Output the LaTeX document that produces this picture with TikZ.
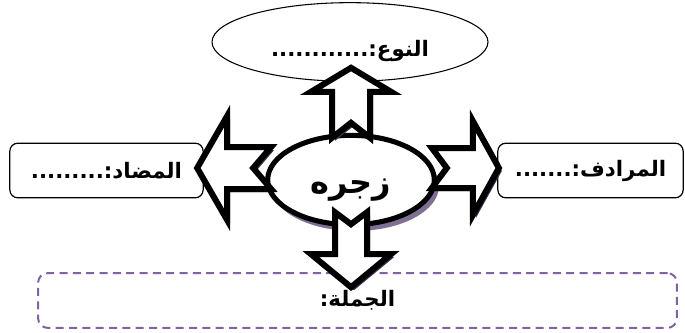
\documentclass[tikz,border=0pt]{standalone}
\usepackage{fontspec}
\usepackage{tikz}
\usetikzlibrary{positioning,shapes.geometric,calc}
\TeXXeTstate=1
\newfontfamily\arabicfont[Script=Arabic]{DejaVu Sans}
\definecolor{shadowpurple}{HTML}{3F3151}
\definecolor{ovalshade}{HTML}{5E4C78}
\definecolor{dashpurple}{HTML}{8064A2}
\newcommand{\artext}[1]{{\arabicfont\bfseries\beginR #1\endR}}

\tikzset{
  pics/notcharrow/.style n args={5}{code={%
    \path[pic actions] (0,-#4) -- (#1-#2,-#4) -- (#1-#2,-#3) -- (#1,0)
      -- (#1-#2,#3) -- (#1-#2,#4) -- (0,#4) -- (#5,0) -- cycle;
  }},
}

\begin{document}
\begin{tikzpicture}[
  x=0.75pt, y=-0.75pt,
  every node/.style={font=\fontsize{16}{19}\selectfont, inner sep=0pt},
  labelbox/.style={rectangle, draw, line width=0.9pt, rounded corners=6pt,
    fill=white, minimum height=41pt},
  topoval/.style={ellipse, draw, line width=0.8pt, fill=white,
    minimum width=207pt, minimum height=59pt, text height=21pt, text depth=0pt},
  wordoval/.style={ellipse, draw, line width=3.8pt, fill=white,
    minimum width=125pt, minimum height=67pt, font=\fontsize{24}{28}\selectfont,
    text height=20pt, text depth=0pt},
  sentbox/.style={rectangle, draw=dashpurple, line width=1.5pt, rounded corners=7pt,
    dash pattern=on 6pt off 4pt, minimum width=479pt, minimum height=41pt},
  blockarrow/.style={draw, fill=white, line width=4.5pt, line join=miter},
  arrowshadow/.style={fill=shadowpurple},
]
  \useasboundingbox (0,0) rectangle (685,332);

  %% Outer boxes
  \node[topoval] (naw) at (350,42) {\artext{النوع:............}};
  \node[labelbox, minimum width=145pt] (didd) at (106.5,170.5) {\artext{المضاد:.........}};
  \node[labelbox, minimum width=139pt] (murad) at (590.5,170.5) {\artext{المرادف:.......}};
  \node[sentbox] (jumla) at (357.5,300.5) {\artext{\raisebox{-2pt}{الجملة:}}};

  %% Central word with its shade
  \fill[ovalshade, opacity=0.8] (355,186) ellipse [x radius=84, y radius=45];
  \node[wordoval] (zajr) at (351,180) {\artext{زجره}};

  %% Tails of the block arrows, taken from the word
  \coordinate (tailN) at ($(zajr.north)+(0,5)$);
  \coordinate (tailS) at ($(zajr.south)+(0,-15)$);
  \coordinate (tailW) at ($(zajr.west)+(6,-12)$);
  \coordinate (tailE) at ($(zajr.east)+(-5,-12)$);

  %% Shadows of the arrows
  \pic[arrowshadow, rotate=90] at ($(tailN)+(3,3)$) {notcharrow={70}{24}{40}{19}{15}};
  \pic[arrowshadow, rotate=-90] at ($(tailS)+(3,3)$) {notcharrow={75}{33}{40}{16}{12}};
  \pic[arrowshadow, rotate=180] at ($(tailW)+(3,3)$) {notcharrow={74}{30}{52}{21}{18}};
  \pic[arrowshadow] at ($(tailE)+(3,3)$) {notcharrow={67}{26}{47}{20}{15}};

  %% Arrows: word -> boxes
  \pic[blockarrow, rotate=90] at (tailN) {notcharrow={70}{24}{40}{19}{15}};
  \pic[blockarrow, rotate=-90] at (tailS) {notcharrow={75}{33}{40}{16}{12}};
  \pic[blockarrow, rotate=180] at (tailW) {notcharrow={74}{30}{52}{21}{18}};
  \pic[blockarrow] at (tailE) {notcharrow={67}{26}{47}{20}{15}};
\end{tikzpicture}
\end{document}
